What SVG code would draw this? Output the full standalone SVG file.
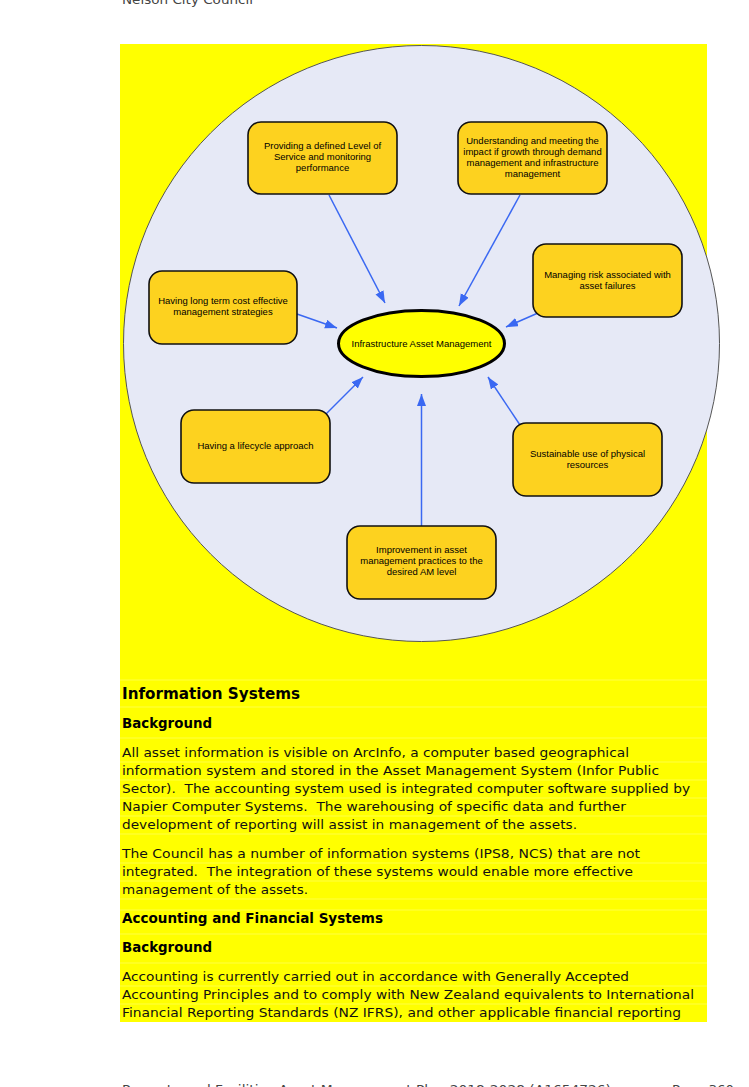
<svg xmlns="http://www.w3.org/2000/svg" width="749" height="1087" viewBox="0 0 749 1087">
<style>
.bg{fill:#ffffff}
.hl{fill:#ffff00}
.sep{stroke:#ffff8a;stroke-width:0.5}
.ring{fill:#e6e9f6;stroke:#555555;stroke-width:1}
.box{fill:#fdd21f;stroke:#111111;stroke-width:1.6}
.hub{fill:#ffff00;stroke:#000000;stroke-width:3}
.nt{font-family:"Liberation Sans",Arial,sans-serif;font-size:9.5px;fill:#000;text-anchor:middle}
.arr{stroke:#3a68f2;stroke-width:1.5;fill:none;marker-end:url(#ah)}
.body{font-family:"DejaVu Sans",Verdana,sans-serif;font-size:12.5px;fill:#111}
.h1{font-family:"DejaVu Sans",Verdana,sans-serif;font-size:15px;font-weight:bold;fill:#000}
.h2{font-family:"DejaVu Sans",Verdana,sans-serif;font-size:13.5px;font-weight:bold;fill:#000}
.pg{font-family:"DejaVu Sans",Verdana,sans-serif;font-size:13px;fill:#444}
</style>
<defs>
<marker id="ah" markerUnits="userSpaceOnUse" markerWidth="13" markerHeight="10" refX="12" refY="4.5" orient="auto">
<path d="M0,0 L12,4.5 L0,9 z" fill="#3a68f2"/>
</marker>
</defs>
<rect class="bg" x="0" y="0" width="749" height="1087"/>
<text class="pg" x="122" y="4" textLength="131" lengthAdjust="spacingAndGlyphs">Nelson City Council</text>
<rect class="hl" x="120" y="44" width="587" height="978"/>
<g id="separators">
<line class="sep" x1="120" y1="680" x2="707" y2="680"/>
<line class="sep" x1="120" y1="707" x2="707" y2="707"/>
<line class="sep" x1="120" y1="738" x2="707" y2="738"/>
<line class="sep" x1="120" y1="762" x2="707" y2="762"/>
<line class="sep" x1="120" y1="780" x2="707" y2="780"/>
<line class="sep" x1="120" y1="798" x2="707" y2="798"/>
<line class="sep" x1="120" y1="816" x2="707" y2="816"/>
<line class="sep" x1="120" y1="834" x2="707" y2="834"/>
<line class="sep" x1="120" y1="863" x2="707" y2="863"/>
<line class="sep" x1="120" y1="881" x2="707" y2="881"/>
<line class="sep" x1="120" y1="899" x2="707" y2="899"/>
<line class="sep" x1="120" y1="910" x2="707" y2="910"/>
<line class="sep" x1="120" y1="934" x2="707" y2="934"/>
<line class="sep" x1="120" y1="963" x2="707" y2="963"/>
<line class="sep" x1="120" y1="986" x2="707" y2="986"/>
<line class="sep" x1="120" y1="1004" x2="707" y2="1004"/>
</g>
<circle class="ring" cx="421.5" cy="343.5" r="298"/>
<g id="connectors">
<line class="arr" x1="329" y1="195" x2="385" y2="303"/>
<line class="arr" x1="520" y1="195" x2="459" y2="306"/>
<line class="arr" x1="538" y1="313" x2="506" y2="327"/>
<line class="arr" x1="297" y1="314" x2="337" y2="328"/>
<line class="arr" x1="326" y1="414" x2="363" y2="377"/>
<line class="arr" x1="421.5" y1="526" x2="421.5" y2="394"/>
<line class="arr" x1="520" y1="425" x2="488" y2="377"/>
</g>
<g id="hub">
<ellipse class="hub" cx="421.5" cy="343.5" rx="83" ry="33"/>
<text class="nt" x="421.5" y="346.8">Infrastructure Asset Management</text>
</g>
<g id="n1">
<rect class="box" x="248" y="122" width="149" height="72" rx="13"/>
<text class="nt" x="322.5" y="149.4">Providing a defined Level of</text>
<text class="nt" x="322.5" y="160.4">Service and monitoring</text>
<text class="nt" x="322.5" y="171.4">performance</text>
</g>
<g id="n2">
<rect class="box" x="458" y="122" width="149" height="72" rx="13"/>
<text class="nt" x="532.5" y="143.7">Understanding and meeting the</text>
<text class="nt" x="532.5" y="154.9">impact if growth through demand</text>
<text class="nt" x="532.5" y="166.1">management and infrastructure</text>
<text class="nt" x="532.5" y="177.3">management</text>
</g>
<g id="n3">
<rect class="box" x="533" y="244" width="149" height="73" rx="13"/>
<text class="nt" x="607.5" y="278">Managing risk associated with</text>
<text class="nt" x="607.5" y="289">asset failures</text>
</g>
<g id="n4">
<rect class="box" x="149" y="271" width="148" height="73" rx="13"/>
<text class="nt" x="223" y="304">Having long term cost effective</text>
<text class="nt" x="223" y="315">management strategies</text>
</g>
<g id="n5">
<rect class="box" x="181" y="410" width="149" height="73" rx="13"/>
<text class="nt" x="255.5" y="449">Having a lifecycle approach</text>
</g>
<g id="n6">
<rect class="box" x="513" y="423" width="149" height="73" rx="13"/>
<text class="nt" x="587.5" y="457">Sustainable use of physical</text>
<text class="nt" x="587.5" y="468">resources</text>
</g>
<g id="n7">
<rect class="box" x="347" y="526" width="149" height="73" rx="13"/>
<text class="nt" x="421.5" y="553.4">Improvement in asset</text>
<text class="nt" x="421.5" y="564.4">management practices to the</text>
<text class="nt" x="421.5" y="575.4">desired AM level</text>
</g>
<g id="text">
<text class="h1" x="122" y="699" textLength="178" lengthAdjust="spacingAndGlyphs">Information Systems</text>
<text class="h2" x="122" y="728" textLength="90" lengthAdjust="spacingAndGlyphs">Background</text>
<text class="body" x="122" y="757" textLength="507" lengthAdjust="spacingAndGlyphs">All asset information is visible on ArcInfo, a computer based geographical</text>
<text class="body" x="122" y="775" textLength="537" lengthAdjust="spacingAndGlyphs">information system and stored in the Asset Management System (Infor Public</text>
<text class="body" x="122" y="793" textLength="568" lengthAdjust="spacingAndGlyphs" xml:space="preserve">Sector).  The accounting system used is integrated computer software supplied by</text>
<text class="body" x="122" y="811" textLength="504" lengthAdjust="spacingAndGlyphs" xml:space="preserve">Napier Computer Systems.  The warehousing of specific data and further</text>
<text class="body" x="122" y="829" textLength="455" lengthAdjust="spacingAndGlyphs">development of reporting will assist in management of the assets.</text>
<text class="body" x="122" y="858" textLength="518" lengthAdjust="spacingAndGlyphs">The Council has a number of information systems (IPS8, NCS) that are not</text>
<text class="body" x="122" y="876" textLength="511" lengthAdjust="spacingAndGlyphs" xml:space="preserve">integrated.  The integration of these systems would enable more effective</text>
<text class="body" x="122" y="894" textLength="186" lengthAdjust="spacingAndGlyphs">management of the assets.</text>
<text class="h2" x="122" y="923" textLength="261" lengthAdjust="spacingAndGlyphs">Accounting and Financial Systems</text>
<text class="h2" x="122" y="952" textLength="90" lengthAdjust="spacingAndGlyphs">Background</text>
<text class="body" x="122" y="981" textLength="507" lengthAdjust="spacingAndGlyphs">Accounting is currently carried out in accordance with Generally Accepted</text>
<text class="body" x="122" y="999" textLength="572" lengthAdjust="spacingAndGlyphs">Accounting Principles and to comply with New Zealand equivalents to International</text>
<text class="body" x="122" y="1017" textLength="559" lengthAdjust="spacingAndGlyphs">Financial Reporting Standards (NZ IFRS), and other applicable financial reporting</text>
</g>
<text class="pg" x="122" y="1094" textLength="489" lengthAdjust="spacingAndGlyphs">Property and Facilities Asset Management Plan 2018-2028 (A1654726)</text>
<text class="pg" x="672" y="1094" textLength="62" lengthAdjust="spacingAndGlyphs">Page 360</text>
</svg>
